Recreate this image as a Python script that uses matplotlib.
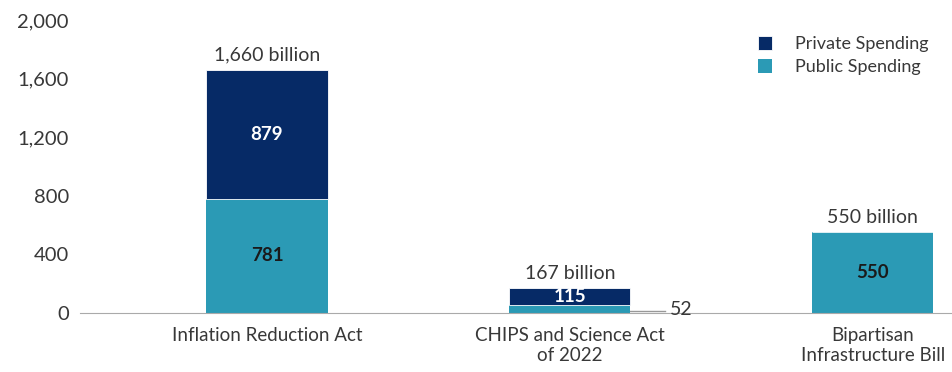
import matplotlib.pyplot as plt
import numpy as np

plt.rcParams['font.family'] = ['Lato', 'DejaVu Sans']

categories = ['Inflation Reduction Act', 'CHIPS and Science Act\nof 2022',
              'Bipartisan\nInfrastructure Bill']
public = [781, 52, 550]
private = [879, 115, 0]
yticks = [0, 400, 800, 1200, 1600, 2000]

navy = '#062a66'
teal = '#2b9ab5'
text_col = '#383838'

fig = plt.figure(figsize=(9.53, 3.72), dpi=100)
ax = fig.add_axes([0.084, 0.159, 0.916, 0.787])

x = np.arange(len(categories))
w = 0.4
ax.bar(x, public, w, color=teal, label='Public Spending', zorder=2)
ax.bar(x, private, w, bottom=public, color=navy, label='Private Spending',
       zorder=2, edgecolor='white', linewidth=0.6)

totals = [p + q for p, q in zip(public, private)]
for i, t in enumerate(totals):
    ax.text(x[i], t + 45, f'{t:,} billion', ha='center', va='bottom',
            fontsize=14, color=text_col)

# segment values
for i in range(len(categories)):
    if public[i] >= 100:
        ax.text(x[i], public[i] / 2, f'{public[i]}', ha='center', va='center',
                fontsize=13.5, fontweight='bold', color='#1a1a1a')
    else:
        # small segment: label outside with a leader line
        ax.plot([x[i] + w / 2, x[i] + w / 2 + 0.115], [public[i] / 2 - 14] * 2,
                color='#999999', lw=1, zorder=1)
        ax.text(x[i] + w / 2 + 0.13, public[i] / 2 - 6, f'{public[i]}',
                ha='left', va='center', fontsize=14, color=text_col)
    if private[i] > 0:
        ax.text(x[i], public[i] + private[i] / 2, f'{private[i]}', ha='center',
                va='center', fontsize=13.5, fontweight='bold', color='white')

ax.set_xlim(-0.617, 2.265)
ax.set_ylim(0, 2000)
ax.set_yticks(yticks)
ax.set_yticklabels([f'{v:,}' for v in yticks], fontsize=14.5, color=text_col)
ax.set_xticks(x)
ax.set_xticklabels(categories, fontsize=13.5, color=text_col, linespacing=1.2)
ax.tick_params(axis='both', length=0)
ax.tick_params(axis='y', pad=8)
ax.tick_params(axis='x', pad=10)
for s in ['top', 'right', 'left']:
    ax.spines[s].set_visible(False)
ax.spines['bottom'].set_color('#aaaaaa')

handles, labels = ax.get_legend_handles_labels()
ax.legend(handles[::-1], labels[::-1], loc='upper left',
          bbox_to_anchor=(0.758, 1.0), frameon=False, fontsize=13,
          handlelength=0.75, handleheight=0.75, handletextpad=1.3,
          labelspacing=0.38, labelcolor=text_col)

fig.savefig('out.png', dpi=100)
